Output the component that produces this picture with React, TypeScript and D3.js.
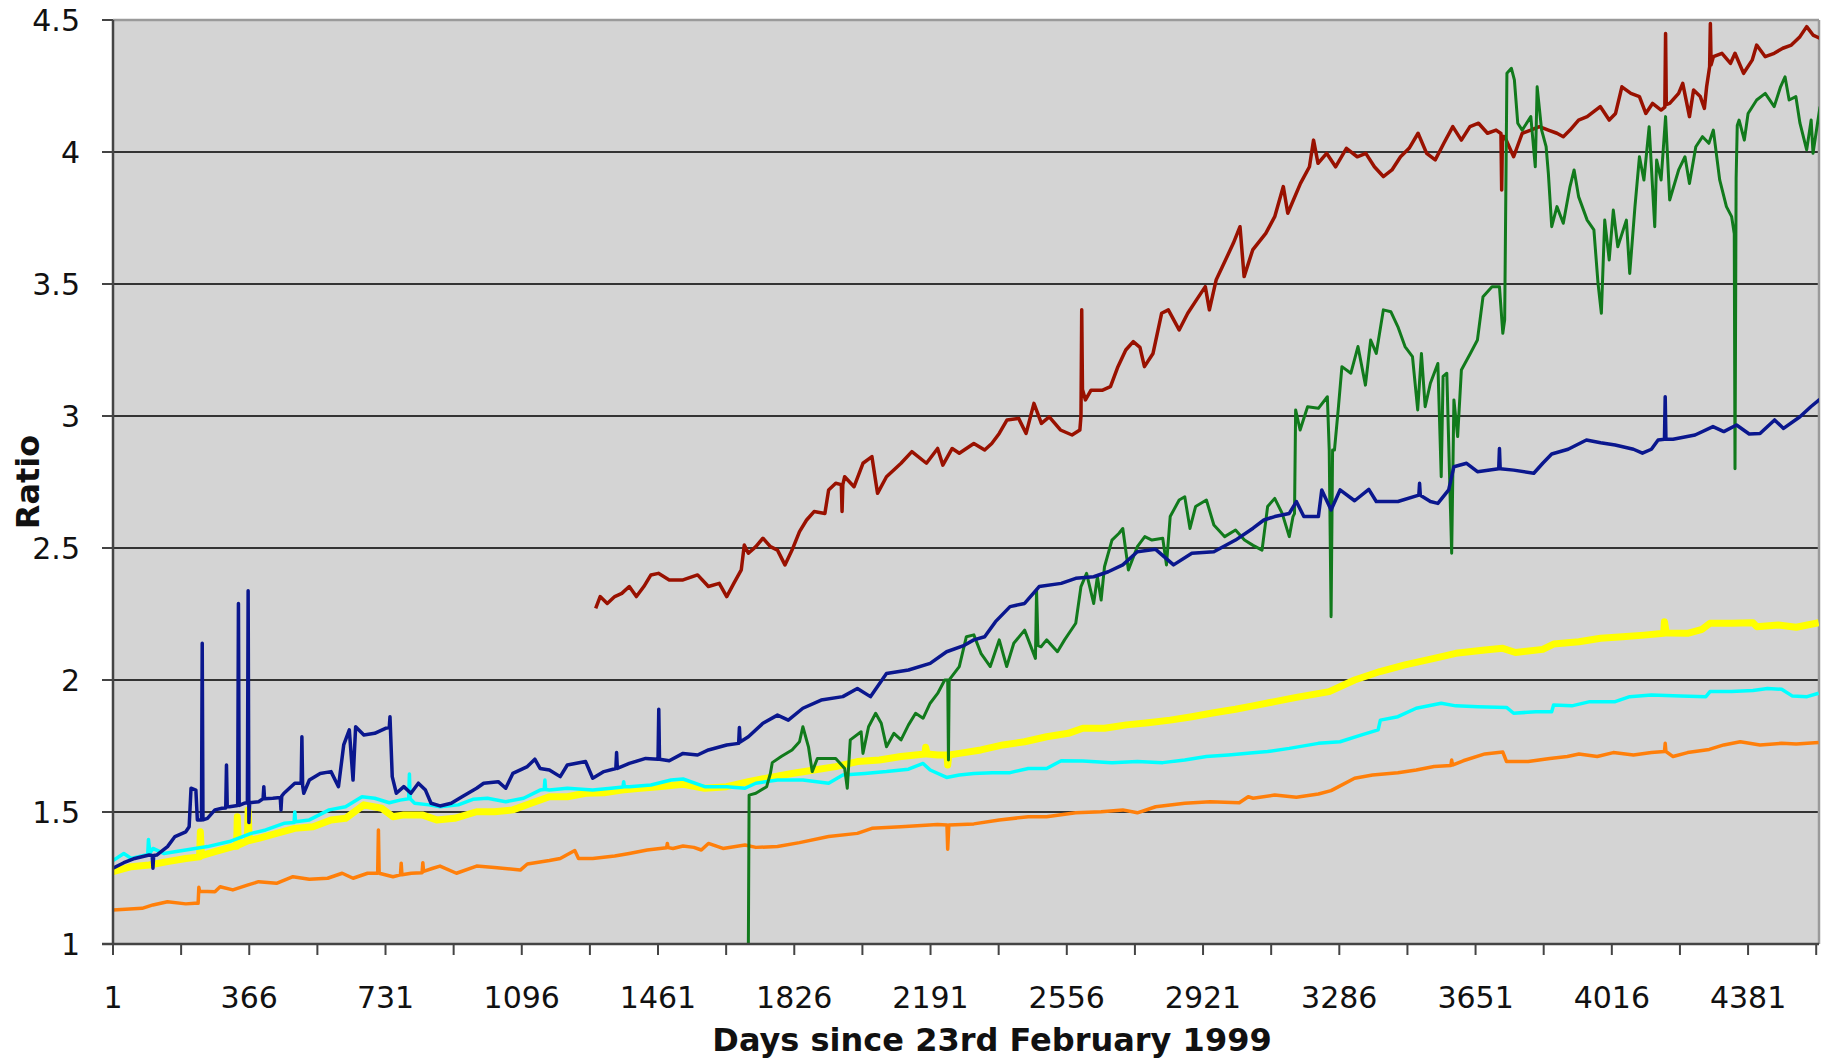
import React from "react";
import * as d3 from "d3";

const xTickLabels = [1, 366, 731, 1096, 1461, 1826, 2191, 2556, 2921, 3286, 3651, 4016, 4381];
const yTicks = [1, 1.5, 2, 2.5, 3, 3.5, 4, 4.5];

const orangeSeries: [number, number][] = [[1,1.129],[79,1.135],[108,1.148],[147,1.16],[196,1.152],[220,1.154],[229,1.154],[231,1.215],[233,1.2],[274,1.198],[288,1.217],[322,1.205],[361,1.223],[391,1.236],[439,1.23],[483,1.255],[527,1.245],[576,1.249],[615,1.268],[644,1.249],[683,1.268],[710,1.268],[712,1.432],[714,1.268],[751,1.255],[771,1.262],[773,1.306],[775,1.262],[800,1.268],[829,1.27],[831,1.308],[833,1.275],[858,1.287],[877,1.295],[921,1.268],[975,1.295],[1023,1.29],[1092,1.28],[1111,1.303],[1170,1.316],[1199,1.324],[1238,1.354],[1248,1.324],[1286,1.324],[1345,1.333],[1384,1.343],[1432,1.356],[1484,1.365],[1486,1.381],[1488,1.365],[1501,1.362],[1528,1.371],[1557,1.366],[1577,1.356],[1596,1.381],[1635,1.362],[1694,1.375],[1723,1.366],[1781,1.369],[1840,1.384],[1918,1.407],[1995,1.419],[2034,1.438],[2112,1.444],[2210,1.453],[2235,1.451],[2237,1.359],[2240,1.451],[2307,1.455],[2375,1.47],[2453,1.482],[2502,1.482],[2580,1.497],[2648,1.501],[2706,1.508],[2745,1.497],[2794,1.52],[2872,1.533],[2940,1.539],[3018,1.535],[3042,1.558],[3055,1.552],[3113,1.564],[3171,1.556],[3230,1.568],[3264,1.581],[3327,1.628],[3375,1.64],[3443,1.649],[3492,1.659],[3540,1.672],[3585,1.676],[3587,1.697],[3589,1.678],[3618,1.694],[3676,1.72],[3724,1.727],[3734,1.691],[3792,1.691],[3850,1.703],[3897,1.71],[3928,1.72],[3977,1.71],[4020,1.725],[4074,1.716],[4122,1.725],[4157,1.729],[4159,1.76],[4161,1.729],[4180,1.71],[4219,1.725],[4277,1.737],[4316,1.754],[4360,1.766],[4413,1.754],[4471,1.76],[4510,1.758],[4570,1.763]];

const cyanSeries: [number, number][] = [[1,1.316],[30,1.343],[50,1.324],[89,1.337],[94,1.34],[96,1.396],[100,1.345],[108,1.362],[137,1.343],[196,1.356],[254,1.369],[313,1.388],[371,1.419],[410,1.432],[459,1.457],[486,1.46],[488,1.5],[490,1.463],[527,1.47],[580,1.508],[624,1.52],[668,1.558],[702,1.552],[741,1.535],[770,1.545],[793,1.55],[795,1.644],[797,1.55],[809,1.533],[848,1.527],[877,1.52],[926,1.527],[965,1.548],[1004,1.552],[1053,1.539],[1101,1.552],[1145,1.583],[1156,1.585],[1158,1.621],[1160,1.585],[1170,1.583],[1218,1.59],[1286,1.583],[1335,1.59],[1367,1.595],[1369,1.615],[1371,1.596],[1384,1.596],[1442,1.602],[1496,1.621],[1528,1.625],[1586,1.596],[1645,1.596],[1694,1.59],[1723,1.609],[1781,1.621],[1849,1.621],[1918,1.609],[1956,1.64],[2015,1.646],[2073,1.653],[2132,1.662],[2171,1.684],[2190,1.659],[2234,1.631],[2268,1.64],[2307,1.646],[2356,1.649],[2404,1.649],[2453,1.665],[2502,1.665],[2541,1.694],[2599,1.693],[2677,1.687],[2745,1.691],[2813,1.687],[2872,1.697],[2930,1.71],[2989,1.716],[3055,1.724],[3094,1.729],[3152,1.741],[3230,1.76],[3288,1.766],[3346,1.792],[3390,1.811],[3396,1.848],[3443,1.861],[3492,1.893],[3559,1.912],[3598,1.902],[3657,1.899],[3734,1.896],[3753,1.874],[3812,1.88],[3855,1.88],[3860,1.905],[3909,1.902],[3957,1.918],[4025,1.918],[4064,1.937],[4122,1.943],[4200,1.939],[4268,1.937],[4279,1.956],[4336,1.956],[4394,1.96],[4433,1.968],[4471,1.965],[4500,1.939],[4539,1.937],[4570,1.95]];

const yellowSeries: [number, number][] = [[1,1.274],[50,1.293],[98,1.299],[147,1.312],[196,1.324],[233,1.33],[235,1.425],[238,1.335],[274,1.35],[322,1.369],[332,1.37],[334,1.482],[337,1.375],[361,1.39],[363,1.508],[366,1.392],[391,1.4],[439,1.419],[488,1.438],[537,1.444],[585,1.47],[624,1.476],[673,1.527],[721,1.514],[751,1.482],[780,1.489],[829,1.489],[868,1.47],[916,1.476],[975,1.501],[1023,1.501],[1072,1.508],[1121,1.533],[1170,1.558],[1218,1.558],[1267,1.571],[1316,1.573],[1364,1.583],[1413,1.59],[1462,1.596],[1528,1.605],[1586,1.59],[1645,1.596],[1703,1.615],[1762,1.631],[1820,1.646],[1879,1.659],[1937,1.672],[1995,1.691],[2054,1.697],[2112,1.71],[2176,1.72],[2178,1.745],[2182,1.72],[2210,1.716],[2235,1.716],[2237,1.678],[2240,1.716],[2268,1.722],[2326,1.735],[2385,1.754],[2443,1.766],[2502,1.785],[2560,1.798],[2599,1.817],[2657,1.817],[2716,1.83],[2774,1.838],[2833,1.848],[2891,1.861],[2950,1.876],[3008,1.889],[3055,1.902],[3113,1.918],[3171,1.934],[3259,1.956],[3327,2.0],[3395,2.032],[3462,2.057],[3540,2.082],[3598,2.101],[3676,2.114],[3724,2.12],[3758,2.104],[3831,2.116],[3860,2.136],[3928,2.145],[3986,2.158],[4045,2.164],[4103,2.17],[4155,2.177],[4157,2.221],[4162,2.178],[4219,2.177],[4258,2.192],[4279,2.215],[4336,2.215],[4394,2.217],[4404,2.202],[4462,2.208],[4510,2.2],[4570,2.217]];

const navySeries: [number, number][] = [[1,1.287],[30,1.308],[59,1.324],[98,1.337],[106,1.335],[108,1.287],[110,1.335],[118,1.337],[147,1.369],[167,1.407],[196,1.425],[205,1.444],[210,1.59],[223,1.583],[227,1.47],[238,1.47],[240,2.139],[242,1.47],[254,1.476],[274,1.508],[293,1.514],[303,1.515],[305,1.678],[307,1.52],[313,1.52],[335,1.525],[337,2.29],[339,1.525],[352,1.533],[361,1.535],[363,2.338],[365,1.46],[367,1.535],[391,1.539],[403,1.55],[405,1.596],[407,1.55],[429,1.552],[449,1.555],[451,1.508],[453,1.56],[459,1.571],[488,1.609],[505,1.61],[507,1.785],[509,1.6],[512,1.571],[527,1.621],[556,1.646],[585,1.653],[605,1.596],[619,1.754],[634,1.811],[644,1.621],[651,1.823],[673,1.792],[702,1.798],[731,1.817],[741,1.82],[743,1.861],[749,1.634],[760,1.571],[780,1.596],[799,1.571],[819,1.609],[838,1.583],[853,1.533],[877,1.523],[907,1.533],[936,1.558],[975,1.59],[994,1.609],[1033,1.615],[1053,1.59],[1072,1.646],[1111,1.672],[1131,1.7],[1145,1.665],[1170,1.659],[1199,1.634],[1218,1.678],[1267,1.691],[1286,1.628],[1316,1.653],[1348,1.665],[1350,1.725],[1352,1.665],[1384,1.684],[1428,1.703],[1461,1.7],[1463,1.889],[1465,1.7],[1491,1.694],[1528,1.722],[1567,1.716],[1596,1.735],[1645,1.754],[1677,1.76],[1679,1.82],[1681,1.765],[1703,1.785],[1742,1.836],[1781,1.867],[1810,1.848],[1849,1.893],[1898,1.924],[1956,1.937],[1995,1.968],[2030,1.937],[2073,2.025],[2132,2.038],[2190,2.063],[2234,2.107],[2278,2.129],[2307,2.152],[2336,2.164],[2365,2.221],[2404,2.278],[2443,2.29],[2482,2.354],[2541,2.366],[2580,2.385],[2628,2.391],[2667,2.41],[2706,2.436],[2745,2.486],[2794,2.495],[2842,2.436],[2891,2.48],[2950,2.486],[3008,2.53],[3055,2.575],[3084,2.606],[3113,2.619],[3152,2.631],[3171,2.676],[3191,2.619],[3230,2.619],[3239,2.72],[3264,2.644],[3288,2.72],[3327,2.679],[3365,2.722],[3385,2.676],[3443,2.676],[3499,2.7],[3501,2.745],[3503,2.7],[3530,2.676],[3550,2.669],[3579,2.72],[3593,2.808],[3627,2.821],[3656,2.789],[3713,2.8],[3715,2.877],[3717,2.8],[3753,2.795],[3807,2.783],[3831,2.821],[3855,2.856],[3899,2.874],[3948,2.909],[3986,2.899],[4025,2.89],[4074,2.874],[4098,2.859],[4122,2.874],[4140,2.909],[4157,2.912],[4159,3.073],[4161,2.912],[4180,2.912],[4239,2.928],[4287,2.96],[4316,2.941],[4350,2.966],[4384,2.932],[4413,2.934],[4452,2.985],[4476,2.953],[4520,2.997],[4549,3.035],[4573,3.063]];

const greenSeries: [number, number][] = [[1701,1.0],[1703,1.0],[1705,1.564],[1723,1.571],[1752,1.596],[1762,1.646],[1767,1.687],[1791,1.71],[1820,1.735],[1840,1.766],[1849,1.823],[1864,1.747],[1874,1.653],[1888,1.703],[1937,1.703],[1961,1.665],[1968,1.59],[1976,1.773],[2005,1.804],[2010,1.722],[2025,1.823],[2044,1.874],[2059,1.836],[2073,1.747],[2093,1.798],[2112,1.773],[2132,1.83],[2151,1.874],[2171,1.855],[2190,1.912],[2210,1.949],[2229,2.0],[2237,2.0],[2239,1.697],[2241,2.0],[2244,2.006],[2268,2.051],[2287,2.164],[2307,2.171],[2326,2.101],[2351,2.051],[2375,2.152],[2395,2.051],[2414,2.139],[2443,2.189],[2472,2.082],[2475,2.341],[2479,2.13],[2487,2.126],[2502,2.152],[2531,2.107],[2550,2.152],[2580,2.215],[2594,2.354],[2609,2.404],[2628,2.29],[2638,2.391],[2648,2.303],[2657,2.429],[2677,2.53],[2696,2.556],[2706,2.574],[2721,2.417],[2745,2.505],[2765,2.543],[2784,2.53],[2813,2.537],[2823,2.436],[2833,2.619],[2857,2.682],[2872,2.694],[2886,2.574],[2901,2.657],[2930,2.682],[2950,2.587],[2979,2.543],[3008,2.568],[3032,2.53],[3055,2.51],[3079,2.492],[3094,2.657],[3113,2.688],[3133,2.631],[3152,2.543],[3162,2.619],[3166,2.63],[3169,3.023],[3181,2.947],[3201,3.035],[3230,3.029],[3254,3.073],[3259,2.871],[3264,2.24],[3268,2.871],[3273,2.871],[3283,3.023],[3293,3.187],[3317,3.162],[3336,3.263],[3356,3.117],[3370,3.288],[3385,3.237],[3404,3.402],[3424,3.395],[3443,3.338],[3462,3.263],[3482,3.225],[3496,3.023],[3506,3.237],[3516,3.035],[3530,3.124],[3550,3.199],[3559,2.77],[3564,3.15],[3574,3.162],[3587,2.48],[3593,3.061],[3603,2.922],[3613,3.174],[3637,3.237],[3656,3.288],[3671,3.452],[3695,3.49],[3715,3.49],[3724,3.313],[3729,3.364],[3735,4.298],[3747,4.317],[3755,4.273],[3764,4.109],[3776,4.083],[3799,4.134],[3811,3.944],[3816,4.247],[3828,4.083],[3840,4.02],[3846,3.919],[3855,3.717],[3869,3.793],[3886,3.73],[3904,3.869],[3915,3.932],[3927,3.831],[3950,3.742],[3968,3.705],[3979,3.503],[3988,3.389],[3997,3.742],[4009,3.591],[4020,3.78],[4032,3.641],[4055,3.742],[4064,3.54],[4078,3.793],[4090,3.982],[4102,3.894],[4116,4.096],[4131,3.717],[4136,3.97],[4148,3.894],[4160,4.134],[4171,3.818],[4195,3.932],[4212,3.982],[4224,3.881],[4241,4.02],[4259,4.058],[4276,4.033],[4288,4.083],[4305,3.894],[4323,3.793],[4337,3.755],[4344,3.69],[4346,2.8],[4349,3.9],[4352,4.1],[4357,4.121],[4371,4.045],[4381,4.146],[4404,4.197],[4427,4.222],[4451,4.172],[4468,4.247],[4480,4.285],[4491,4.197],[4509,4.21],[4520,4.109],[4538,4.008],[4550,4.121],[4555,3.995],[4567,4.109],[4574,4.172]];

const redSeries: [number, number][] = [[1294,2.271],[1306,2.316],[1325,2.29],[1345,2.316],[1364,2.328],[1384,2.354],[1403,2.316],[1423,2.354],[1442,2.398],[1462,2.404],[1491,2.379],[1528,2.379],[1567,2.398],[1596,2.354],[1625,2.366],[1645,2.316],[1664,2.366],[1684,2.417],[1692,2.511],[1703,2.48],[1723,2.505],[1742,2.537],[1762,2.505],[1781,2.492],[1801,2.436],[1820,2.492],[1840,2.562],[1859,2.606],[1879,2.638],[1908,2.631],[1918,2.72],[1937,2.745],[1952,2.74],[1954,2.638],[1956,2.74],[1961,2.77],[1986,2.732],[2010,2.821],[2034,2.846],[2049,2.707],[2073,2.77],[2112,2.821],[2141,2.865],[2180,2.821],[2210,2.877],[2224,2.814],[2249,2.877],[2268,2.859],[2307,2.896],[2336,2.871],[2355,2.896],[2375,2.934],[2396,2.985],[2427,2.991],[2447,2.934],[2468,3.048],[2488,2.972],[2509,2.997],[2539,2.947],[2570,2.928],[2591,2.947],[2594,3.0],[2596,3.402],[2598,3.1],[2606,3.061],[2621,3.098],[2652,3.098],[2673,3.111],[2693,3.187],[2714,3.25],[2734,3.282],[2752,3.26],[2764,3.187],[2787,3.237],[2810,3.389],[2828,3.402],[2857,3.326],[2880,3.389],[2903,3.439],[2927,3.49],[2938,3.402],[2956,3.515],[2973,3.566],[3002,3.654],[3020,3.717],[3031,3.528],[3054,3.629],[3089,3.692],[3113,3.755],[3136,3.869],[3148,3.768],[3182,3.881],[3206,3.944],[3217,4.045],[3229,3.957],[3252,3.995],[3276,3.944],[3305,4.014],[3334,3.982],[3357,3.995],[3380,3.944],[3404,3.907],[3427,3.932],[3450,3.982],[3473,4.014],[3497,4.071],[3520,3.995],[3543,3.97],[3566,4.033],[3590,4.096],[3613,4.045],[3636,4.096],[3659,4.109],[3683,4.071],[3706,4.083],[3719,4.07],[3721,3.856],[3723,4.06],[3729,4.058],[3753,3.982],[3776,4.071],[3799,4.083],[3822,4.096],[3846,4.083],[3869,4.071],[3886,4.058],[3904,4.083],[3927,4.121],[3950,4.134],[3985,4.172],[4009,4.121],[4026,4.146],[4043,4.247],[4067,4.222],[4090,4.21],[4107,4.146],[4125,4.184],[4148,4.159],[4158,4.17],[4160,4.449],[4162,4.18],[4171,4.184],[4195,4.222],[4206,4.26],[4224,4.134],[4235,4.235],[4253,4.21],[4264,4.165],[4270,4.247],[4278,4.323],[4280,4.487],[4282,4.33],[4288,4.361],[4311,4.374],[4334,4.336],[4346,4.374],[4369,4.298],[4392,4.348],[4404,4.405],[4427,4.361],[4451,4.374],[4474,4.393],[4497,4.405],[4520,4.437],[4538,4.475],[4555,4.443],[4573,4.431]];

const seriesList = [
  { name: "yellow", data: yellowSeries, color: "#ffff00", width: 7 },
  { name: "cyan", data: cyanSeries, color: "#00ffff", width: 3.5 },
  { name: "orange", data: orangeSeries, color: "#ff7f0a", width: 3.5 },
  { name: "red", data: redSeries, color: "#991100", width: 3.5 },
  { name: "green", data: greenSeries, color: "#117a1c", width: 3 },
  { name: "navy", data: navySeries, color: "#0a178e", width: 3.5 },
];

const W = 1821;
const H = 1063;
const L = 113, R = 1819, T = 20, B = 944;

export default function App() {
  const x = d3.scaleLinear().domain([1, 4571]).range([L, R]);
  const y = d3.scaleLinear().domain([1, 4.5]).range([B, T]);
  const line = d3.line<[number, number]>().x((d) => x(d[0])).y((d) => y(d[1]));
  const minorTicks = d3.range(0, 26).map((k) => 1 + k * 182.5).filter((v) => v <= 4571);
  const font = "'DejaVu Sans', Verdana, sans-serif";
  return (
    <svg width={W} height={H} style={{ position: "absolute", left: 0, top: 0, background: "#fff" }}>
      <defs>
        <clipPath id="plot">
          <rect x={L} y={T - 2} width={R - L} height={B - T + 2} />
        </clipPath>
      </defs>
      <rect x={L} y={T} width={R - L} height={B - T} fill="#d4d4d4" />
      {yTicks.filter((v) => v > 1 && v < 4.5).map((v) => (
        <line key={v} x1={L} x2={R} y1={y(v)} y2={y(v)} stroke="#333" strokeWidth={2} />
      ))}
      <line x1={L} x2={R} y1={T} y2={T} stroke="#9a9a9a" strokeWidth={2.5} />
      <line x1={R} x2={R} y1={T} y2={B} stroke="#9a9a9a" strokeWidth={2.5} />
      <g clipPath="url(#plot)">
        {seriesList.map((s) => (
          <path key={s.name} d={line(s.data) || ""} fill="none" stroke={s.color} strokeWidth={s.width} strokeLinejoin="round" />
        ))}
      </g>
      <line x1={L} x2={L} y1={T} y2={B} stroke="#444" strokeWidth={2.5} />
      <line x1={L - 11} x2={R} y1={B} y2={B} stroke="#444" strokeWidth={2.5} />
      {yTicks.map((v) => (
        <g key={v}>
          <line x1={L - 11} x2={L} y1={y(v)} y2={y(v)} stroke="#444" strokeWidth={2} />
          <text x={80} y={y(v)} dy="0.36em" textAnchor="end" fontFamily={font} fontSize={30} fill="#111">{v}</text>
        </g>
      ))}
      {minorTicks.map((v) => (
        <line key={v} x1={x(v)} x2={x(v)} y1={B} y2={B + 11} stroke="#444" strokeWidth={2} />
      ))}
      {xTickLabels.map((v) => (
        <text key={v} x={x(v)} y={1008} textAnchor="middle" fontFamily={font} fontSize={30} fill="#111">{v}</text>
      ))}
      <text x={992} y={1051} textAnchor="middle" fontFamily={font} fontSize={32} fontWeight="bold" fill="#111">Days since 23rd February 1999</text>
      <text transform="translate(39,482) rotate(-90)" textAnchor="middle" fontFamily={font} fontSize={32} fontWeight="bold" fill="#111">Ratio</text>
    </svg>
  );
}
